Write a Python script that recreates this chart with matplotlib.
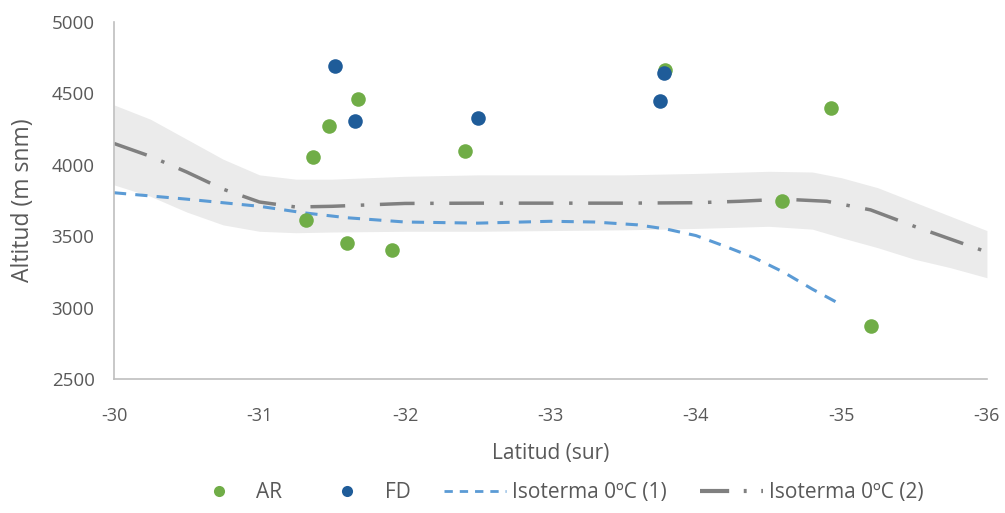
import numpy as np
import matplotlib.pyplot as plt
from matplotlib.lines import Line2D

# observed points
ar_lat = [-31.32, -31.37, -31.48, -31.60, -31.68, -31.91, -32.41, -33.79, -34.59, -34.93, -35.20]
ar_alt = [3615, 4055, 4270, 3450, 4460, 3405, 4095, 4665, 3750, 4395, 2870]
fd_lat = [-31.52, -31.66, -32.50, -33.75, -33.78]
fd_alt = [4690, 4305, 4330, 4445, 4640]

# isoterma 0C (1)
iso1_lat = [-30, -30.5, -31, -31.3, -31.6, -32, -32.5, -33, -33.3, -33.6, -33.8, -34.0, -34.2, -34.4, -34.6, -34.8, -35.0]
iso1_alt = [3805, 3760, 3710, 3665, 3630, 3600, 3592, 3605, 3600, 3580, 3550, 3505, 3430, 3350, 3250, 3130, 3020]

# isoterma 0C (2) and its band
iso2_lat = [-30, -30.25, -30.5, -30.75, -31.0, -31.25, -31.5, -32, -32.5, -33, -33.5, -34, -34.3, -34.6, -34.9, -35.2, -35.5, -35.75, -36]
iso2_alt = [4150, 4060, 3950, 3830, 3740, 3705, 3710, 3730, 3732, 3732, 3732, 3735, 3745, 3760, 3745, 3685, 3570, 3480, 3390]

band_lat = [-30, -30.25, -30.5, -30.75, -31.0, -31.25, -31.5, -32, -32.5, -33, -33.5, -34, -34.5, -34.8, -35.0, -35.25, -35.5, -35.75, -36]
band_hi = [4420, 4320, 4180, 4040, 3930, 3900, 3900, 3920, 3930, 3930, 3930, 3940, 3955, 3950, 3910, 3840, 3740, 3640, 3540]
band_lo = [3860, 3780, 3670, 3580, 3535, 3525, 3530, 3535, 3535, 3540, 3545, 3555, 3570, 3550, 3490, 3420, 3340, 3280, 3210]

xticks = [-30, -31, -32, -33, -34, -35, -36]
yticks = [2500, 3000, 3500, 4000, 4500, 5000]

green = "#70ad47"
blue = "#1f5c99"
lblue = "#5b9bd5"
gray = "#808080"
txt = "#595959"

plt.rcParams['font.family'] = ['Open Sans', 'DejaVu Sans']

fig = plt.figure(figsize=(10.05, 5.13), dpi=100)
ax = fig.add_axes([0.1134, 0.261, 0.8686, 0.696])

ax.fill_between(band_lat, band_lo, band_hi, color="#ebebeb", lw=0, zorder=1)
ax.plot(iso2_lat, iso2_alt, color=gray, lw=2.5, dashes=(10, 4.5, 1, 4.5), zorder=2)
ax.plot(iso1_lat, iso1_alt, color=lblue, lw=2.2, dashes=(4, 3), zorder=2)
ax.scatter(ar_lat, ar_alt, s=110, color=green, zorder=3, lw=0)
ax.scatter(fd_lat, fd_alt, s=110, color=blue, zorder=3, lw=0)

ax.set_xlim(-30, -36)
ax.set_ylim(2500, 5000)
ax.set_xticks(xticks)
ax.set_yticks(yticks)
ax.set_xticklabels([str(t) for t in xticks], fontsize=13, color=txt)
ax.set_yticklabels([str(t) for t in yticks], fontsize=13.5, color=txt)
ax.tick_params(axis='x', length=0, pad=20)
ax.tick_params(axis='y', length=0, pad=14)
for s in ['top', 'right']:
    ax.spines[s].set_visible(False)
for s in ['left', 'bottom']:
    ax.spines[s].set_color("#bfbfbf")
    ax.spines[s].set_linewidth(1.2)

ax.set_xlabel("Latitud (sur)", fontsize=15, color=txt, labelpad=13)
ax.set_ylabel("Altitud (m snm)", fontsize=16.5, color=txt, labelpad=12)

handles = [
    Line2D([], [], ls='none', marker='o', ms=8, color=green, mew=0),
    Line2D([], [], ls='none', marker='o', ms=8, color=blue, mew=0),
    Line2D([], [], color=lblue, lw=2, dashes=(3, 2.5)),
    Line2D([], [], color=gray, lw=3, dashes=(7, 3.5, 0.7, 3.5)),
]
labels = ["AR", "FD", "Isoterma 0ºC (1)", "Isoterma 0ºC (2)"]
leg = fig.legend(handles, labels, loc='center', bbox_to_anchor=(0.553, 0.04), ncol=4,
                 frameon=False, handlelength=3.0, columnspacing=1.6, handletextpad=0.3,
                 prop={'size': 15})
for t in leg.get_texts():
    t.set_color(txt)

fig.savefig("out.png", dpi=100)
